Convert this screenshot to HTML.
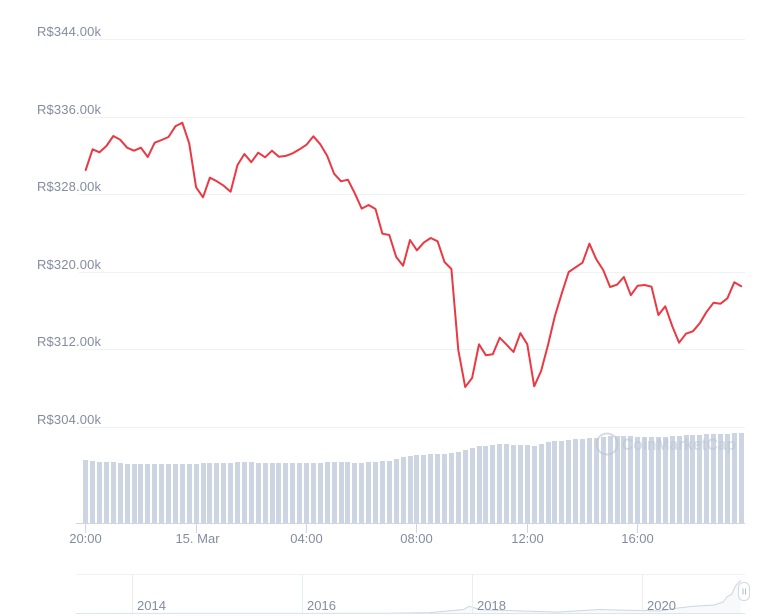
<!DOCTYPE html>
<html lang="en">
<head>
<meta charset="utf-8">
<title>Price chart</title>
<style>
html,body{margin:0;padding:0;background:#fff;width:765px;height:616px;overflow:hidden}
svg{display:block;font-family:"Liberation Sans",sans-serif}
</style>
</head>
<body>
<svg id="chart" width="765" height="616" viewBox="0 0 765 616" xmlns="http://www.w3.org/2000/svg"></svg>
<script>
const priceTicks = [304, 312, 320, 328, 336, 344];
const priceLabels = ["R$304.00k", "R$312.00k", "R$320.00k", "R$328.00k", "R$336.00k", "R$344.00k"];
const timeTickHours = [0, 4, 8, 12, 16, 20];
const timeTickLabels = ["20:00", "15. Mar", "04:00", "08:00", "12:00", "16:00"];
const prices = [
330.53,332.67,332.36,333.01,334.04,333.66,332.83,332.52,332.83,331.87,333.35,333.63,
333.94,335.04,335.41,333.29,328.74,327.71,329.74,329.36,328.91,328.29,331.05,332.18,
331.33,332.32,331.84,332.52,331.90,331.98,332.25,332.67,333.14,334.01,333.18,331.98,
330.15,329.36,329.53,328.12,326.54,326.92,326.50,323.95,323.82,321.55,320.65,323.30,
322.24,323.03,323.51,323.17,321.03,320.31,311.95,308.13,309.06,312.54,311.40,311.50,
313.22,312.50,311.74,313.68,312.54,308.20,309.78,312.46,315.46,317.80,320.00,320.49,
320.96,322.92,321.31,320.21,318.45,318.69,319.48,317.60,318.59,318.66,318.48,315.56,
316.46,314.43,312.70,313.63,313.88,314.71,315.90,316.83,316.73,317.29,318.94,318.52
];
const volumes = [
63,62,61,61,61,60,59,59,59,59,59,59,59,59,59,59,59,60,60,60,60,60,61,61,
61,60,60,60,60,60,60,60,60,60,60,61,61,61,61,60,60,61,61,62,62,64,66,67,
68,68,69,69,69,70,71,73,75,77,77,78,79,79,78,78,78,77,79,81,82,82,83,84,
84,85,85,86,87,87,87,87,86,86,86,86,86,87,87,88,88,88,89,89,89,89,90,90
];
const navYears = [2013.35,2014,2015,2016,2016.5,2017,2017.5,2017.9,2017.96,2018.1,2018.5,2019,2019.5,2019.8,2020,2020.2,2020.4,2020.6,2020.85,2020.95,2021.0,2021.05,2021.1,2021.16];
const navValues = [0.3,1.5,0.6,1.5,2.5,3,9,40,72,38,28,14,40,33,30,25,52,72,85,115,170,190,280,330];
const navTickYears = [2014, 2016, 2018, 2020];

const NS = "http://www.w3.org/2000/svg";
const svg = document.getElementById("chart");
function make(tag, attrs, text) {
  const el = document.createElementNS(NS, tag);
  for (const k in attrs) el.setAttribute(k, attrs[k]);
  if (text !== undefined) el.textContent = text;
  svg.appendChild(el);
  return el;
}
const xAt = i => 85.7 + i * 6.9;
const xHour = h => xAt(h * 4);
const yPrice = v => 427 - (v - 304) * 77.5 / 8;
const yVol = v => 523 - v;
const xYear = y => 132.3 + (y - 2014) * 85;
const yNav = v => 613.5 - v * 0.1;

priceTicks.forEach((t, i) => {
  const y = Math.round(yPrice(t) - 0.5) + 0.5;
  const grid = make("line", {x1: 79, x2: 745, y1: y, y2: y, stroke: "#eff2f5", "stroke-width": 1});
  
  
  const label = make("text", {x: 37, y: y - 3.5, "font-size": 13, fill: "#858ca2", textLength: 64, lengthAdjust: "spacing"}, priceLabels[i]);
  
  
});

volumes.forEach((v, i) => {
  const bar = make("rect", {x: Math.round(xAt(i) - 2.5), y: yVol(v), width: 5, height: v, fill: "#cdd5e3", "shape-rendering": "crispEdges"});
  
  
});

const wmCircle = make("circle", {cx: 607, cy: 444, r: 10.5, fill: "none", stroke: "#b9c3d4", "stroke-width": 2, opacity: 0.6});


const wmText = make("text", {x: 622, y: 450, "font-size": 17, "font-weight": "bold", fill: "#b9c3d4", opacity: 0.55, textLength: 114, lengthAdjust: "spacingAndGlyphs"}, "CoinMarketCap");



const axis = make("line", {x1: 76, x2: 745, y1: 523.5, y2: 523.5, stroke: "#ccd6eb", "stroke-width": 1});



timeTickHours.forEach((h, i) => {
  const x = Math.round(xHour(h) - 0.5) + 0.5;
  const tick = make("line", {x1: x, x2: x, y1: 523, y2: 533, stroke: "#ccd6eb", "stroke-width": 1});
  
  
  const label = make("text", {x: i === 1 ? x + 1 : x, y: 543, "text-anchor": "middle", "font-size": 13, fill: "#858ca2"}, timeTickLabels[i]);
  
  
});

const priceLine = make("path", {
  d: prices.map((v, i) => (i ? "L" : "M") + xAt(i).toFixed(1) + " " + yPrice(v).toFixed(1)).join(""),
  fill: "none", stroke: "#ea3943", "stroke-width": 2, "stroke-linejoin": "round", "stroke-linecap": "round"
});



const navTop = make("line", {x1: 76, x2: 745, y1: 574.5, y2: 574.5, stroke: "#eff2f5", "stroke-width": 1});



const navPts = navYears.map((yr, i) => xYear(yr).toFixed(1) + " " + yNav(navValues[i]).toFixed(1));
const navArea = make("path", {d: "M" + navPts.join("L") + "L" + xYear(navYears[navYears.length - 1]).toFixed(1) + " 613.5L" + xYear(navYears[0]).toFixed(1) + " 613.5Z", fill: "#f8f9fb"});


const navLine = make("path", {d: "M" + navPts.join("L"), fill: "none", stroke: "#cdd5e3", "stroke-width": 1});



navTickYears.forEach(yr => {
  const x = Math.round(xYear(yr) - 0.5) + 0.5;
  const g = make("line", {x1: x, x2: x, y1: 574, y2: 613, stroke: "#e9ecf1", "stroke-width": 1});
  
  
  const t = make("text", {x: x + 4.5, y: 610, "font-size": 13, fill: "#858ca2"}, String(yr));
  
  
});

const navBottom = make("line", {x1: 76, x2: 745, y1: 613.5, y2: 613.5, stroke: "#dfe5f0", "stroke-width": 1});



const handle = make("rect", {x: 738.5, y: 582.5, width: 11, height: 18, rx: 5, fill: "#fff", stroke: "#d5d9e0", "stroke-width": 1});


const grip1 = make("line", {x1: 743, x2: 743, y1: 588.5, y2: 594.5, stroke: "#b5bac4", "stroke-width": 1});


const grip2 = make("line", {x1: 745.5, x2: 745.5, y1: 588.5, y2: 594.5, stroke: "#b5bac4", "stroke-width": 1});


</script>
</body>
</html>
